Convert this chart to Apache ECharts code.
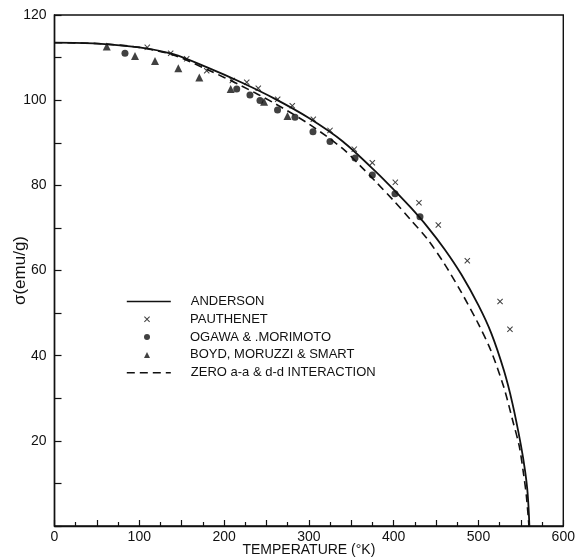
<!DOCTYPE html>
<html><head><meta charset="utf-8">
<script src="https://cdn.jsdelivr.net/npm/echarts@6/dist/echarts.min.js"></script>
<style>html,body{margin:0;padding:0;background:#fff}#c{width:576px;height:558px}</style>
</head><body><div id="c"></div>
<script>
// Anderson (solid) curve
const andersonT = [0, 50, 100, 140, 180, 220, 260, 300, 340, 380, 400, 420, 440, 460, 480, 500, 515, 530, 540, 550, 555, 558, 560];
const andersonS = [113.5, 113.3, 112.4, 110.8, 107.7, 104.2, 100.3, 95.8, 90.3, 83.0, 79.0, 74.8, 70.2, 65.0, 59.0, 51.8, 45.3, 36.5, 28.8, 19.0, 12.8, 7.5, 0];
// Zero a-a & d-d interaction (dashed) curve
const zeroT = [0, 50, 100, 140, 180, 220, 260, 300, 340, 360, 380, 400, 420, 440, 460, 480, 500, 515, 530, 540, 548, 553, 556.5, 559.5];
const zeroS = [113.5, 113.3, 112.4, 110.6, 107.2, 103.4, 99.2, 94.4, 88.6, 84.7, 80.6, 76.4, 71.9, 67.3, 61.5, 54.8, 47.4, 41.0, 32.5, 25.0, 18.8, 12.4, 7.0, 0];
// Pauthenet (crosses)
const pauthenetT = [109.4, 137.0, 155.9, 179.5, 209.7, 226.7, 240.3, 263.2, 280.4, 305.2, 324.9, 353.5, 374.8, 401.9, 429.8, 452.6, 486.8, 525.4, 537.1];
const pauthenetS = [112.4, 111.0, 109.7, 106.9, 104.6, 104.2, 102.8, 100.2, 98.7, 95.5, 92.9, 88.5, 85.3, 80.7, 75.9, 70.7, 62.3, 52.7, 46.2];
// Ogawa & Morimoto (circles)
const ogawaT = [83.1, 214.9, 230.5, 242.3, 263.0, 283.6, 304.8, 324.9, 354.4, 374.8, 401.5, 431.0];
const ogawaS = [111.0, 102.6, 101.2, 99.9, 97.7, 96.0, 92.6, 90.3, 86.4, 82.4, 78.0, 72.6];
// Boyd, Moruzzi & Smart (triangles)
const boydT = [61.6, 94.9, 118.5, 146.0, 170.8, 207.8, 247.1, 274.8];
const boydS = [112.6, 110.4, 109.2, 107.5, 105.3, 102.6, 99.6, 96.3];

const xTickLabels = [0, 100, 200, 300, 400, 500, 600];
const yTickLabels = [20, 40, 60, 80, 100, 120];

const names = ['ANDERSON', 'PAUTHENET', 'OGAWA & .MORIMOTO', 'BOYD, MORUZZI & SMART', 'ZERO a-a & d-d INTERACTION'];

const zip = (a, b) => a.map((v, i) => [v, b[i]]);
const INK = '#111111';
const FONT = 'Liberation Sans';
const CROSS = 'path://M0,1.2L1.2,0L5,3.8L8.8,0L10,1.2L6.2,5L10,8.8L8.8,10L5,6.2L1.2,10L0,8.8L3.8,5Z';

function legendFor(name, centerY, isLine) {
  const iw = isLine ? 44 : 6;
  const left = isLine ? 126 : 144;
  const textX = 190;
  return {
    data: [name],
    left: left,
    top: centerY - 7.5,
    padding: 0,
    itemWidth: iw,
    itemHeight: isLine ? 10 : 6,
    selectedMode: false,
    itemStyle: isLine ? { opacity: 0, borderWidth: 0 } : { borderWidth: 0 },
    lineStyle: isLine ? { width: 1.6 } : undefined,
    textStyle: { color: INK, fontSize: 13, fontFamily: FONT, padding: [0, 0, 0, textX - (left + iw + 5)] }
  };
}

const chart = echarts.init(document.getElementById('c'), null, { renderer: 'canvas' });
chart.setOption({
  backgroundColor: '#fff',
  animation: false,
  textStyle: { fontFamily: FONT, color: INK },
  grid: { left: 54.5, right: 12.7, top: 15, bottom: 32, outerBoundsMode: 'none', containLabel: false,
    show: true, borderColor: INK, borderWidth: 1.4, backgroundColor: 'transparent' },
  legend: [
    legendFor(names[0], 302.5, true),
    legendFor(names[1], 320.3, false),
    legendFor(names[2], 338.1, false),
    legendFor(names[3], 355.9, false),
    legendFor(names[4], 373.7, true)
  ],
  xAxis: {
    type: 'value', min: 0, max: 600, interval: 50,
    name: 'TEMPERATURE (°K)', nameLocation: 'middle', nameGap: 17, nameMoveOverlap: false,
    nameTextStyle: { fontSize: 14, color: INK, fontFamily: FONT },
    axisLine: { lineStyle: { color: INK, width: 1.4 } },
    axisTick: { inside: true, length: 6, lineStyle: { color: INK, width: 1.2 } },
    minorTick: { show: true, splitNumber: 2, length: 4, lineStyle: { color: INK, width: 1.2 } },
    splitLine: { show: false },
    axisLabel: { color: INK, fontSize: 14, fontFamily: FONT, margin: 4,
      formatter: v => xTickLabels.includes(v) ? String(v) : '' }
  },
  yAxis: {
    type: 'value', min: 0, max: 120, interval: 20,
    name: 'σ(emu/g)', nameLocation: 'middle', nameGap: 26, nameRotate: 90, nameMoveOverlap: false,
    nameTextStyle: { fontSize: 17, color: INK, fontFamily: FONT },
    axisLine: { lineStyle: { color: INK, width: 1.4 } },
    axisTick: { inside: true, length: 7, lineStyle: { color: INK, width: 1.2 } },
    minorTick: { show: true, splitNumber: 2, length: 7, lineStyle: { color: INK, width: 1.2 } },
    splitLine: { show: false },
    axisLabel: { color: INK, fontSize: 14, fontFamily: FONT, margin: 8,
      formatter: v => yTickLabels.includes(v) ? String(v) : '' }
  },
  series: [
    { name: names[4], type: 'line', data: zip(zeroT, zeroS), smooth: 0.3, symbol: 'none',
      lineStyle: { color: INK, width: 1.6, type: [8, 5] }, itemStyle: { color: INK } },
    { name: names[0], type: 'line', data: zip(andersonT, andersonS), smooth: 0.3, symbol: 'none',
      lineStyle: { color: INK, width: 1.8 }, itemStyle: { color: INK } },
    { name: names[1], type: 'scatter', data: zip(pauthenetT, pauthenetS), symbol: CROSS, symbolSize: 6,
      itemStyle: { color: INK } },
    { name: names[2], type: 'scatter', data: zip(ogawaT, ogawaS), symbol: 'circle', symbolSize: 7,
      itemStyle: { color: INK } },
    { name: names[3], type: 'scatter', data: zip(boydT, boydS), symbol: 'triangle', symbolSize: 8,
      itemStyle: { color: INK } }
  ]
});
</script>
</body></html>
